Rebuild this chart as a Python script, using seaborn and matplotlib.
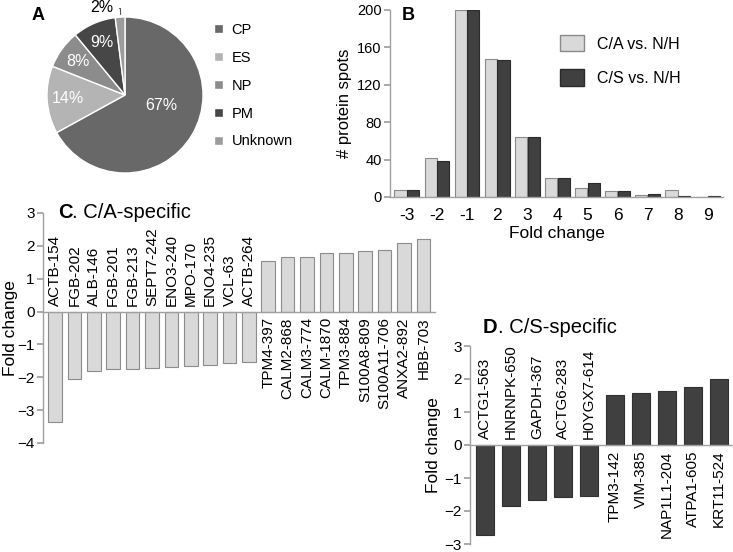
import matplotlib
matplotlib.use("Agg")
import matplotlib.pyplot as plt
from matplotlib.patches import Patch
import numpy as np
import pandas as pd
import seaborn as sns

# panel A - subcellular location
loc_labels = ["CP", "ES", "NP", "PM", "Unknown"]
loc_pct = [67, 14, 8, 9, 2]
loc_colors = ["#686868", "#b4b4b4", "#8c8c8c", "#474747", "#9c9c9c"]

# panel B - number of spots per fold change bin
fold_bins = ["-3", "-2", "-1", "2", "3", "4", "5", "6", "7", "8", "9"]
spots_ca = [8, 42, 200, 148, 64, 20, 10, 6, 2, 8, 0]
spots_cs = [8, 38, 200, 147, 64, 20, 15, 6, 3, 1, 1]
series_names = ["C/A vs. N/H", "C/S vs. N/H"]

# panel C - C/A specific
ca_proteins = ["ACTB-154", "FGB-202", "ALB-146", "FGB-201", "FGB-213", "SEPT7-242",
               "ENO3-240", "MPO-170", "ENO4-235", "VCL-63", "ACTB-264",
               "TPM4-397", "CALM2-868", "CALM3-774", "CALM-1870", "TPM3-884",
               "S100A8-809", "S100A11-706", "ANXA2-892", "HBB-703"]
ca_fold = [-3.35, -2.05, -1.82, -1.75, -1.75, -1.73, -1.70, -1.65, -1.63, -1.58, -1.53,
           1.55, 1.65, 1.67, 1.77, 1.78, 1.83, 1.88, 2.10, 2.20]

# panel D - C/S specific
cs_proteins = ["ACTG1-563", "HNRNPK-650", "GAPDH-367", "ACTG6-283", "H0YGX7-614",
               "TPM3-142", "VIM-385", "NAP1L1-204", "ATPA1-605", "KRT11-524"]
cs_fold = [-2.72, -1.85, -1.68, -1.58, -1.55, 1.52, 1.57, 1.63, 1.77, 2.0]

W, H = 733, 552


def box(l, t, r, b):
    return [l / W, 1 - b / H, (r - l) / W, (b - t) / H]


sns.set_theme(style="white")
plt.rcParams["font.family"] = ["Liberation Sans", "DejaVu Sans"]
plt.rcParams["axes.edgecolor"] = "#a0a0a0"
plt.rcParams["axes.linewidth"] = 1.0
plt.rcParams["axes.facecolor"] = "none"
plt.rcParams["text.color"] = "black"
plt.rcParams["axes.labelcolor"] = "black"
plt.rcParams["xtick.labelcolor"] = "black"
plt.rcParams["ytick.labelcolor"] = "black"

fig = plt.figure(figsize=(7.33, 5.52), dpi=100)

# ---- A: pie
axA = fig.add_axes(box(47, 17, 203, 173))
wedges, texts, autotexts = axA.pie(
    loc_pct, colors=loc_colors, startangle=90, counterclock=False,
    autopct="%.0f%%", pctdistance=0.74,
    wedgeprops=dict(edgecolor="white", linewidth=1),
    textprops=dict(color="white", fontsize=11.5))
axA.set_xlim(-1, 1)
axA.set_ylim(-1, 1)
mid = np.deg2rad((wedges[0].theta1 + wedges[0].theta2) / 2)
autotexts[0].set_position((0.5 * np.cos(mid) + 0.03, 0.5 * np.sin(mid) + 0.12))
autotexts[-1].set_visible(False)
mid = np.deg2rad((wedges[-1].theta1 + wedges[-1].theta2) / 2)
axA.annotate(f"{loc_pct[-1]}%", xy=(np.cos(mid), np.sin(mid)), xytext=(-0.15, 1.12),
             ha="right", va="center", fontsize=11.5, color="black",
             arrowprops=dict(arrowstyle="-", color="#555555", lw=0.8,
                             connectionstyle="angle,angleA=0,angleB=90,rad=0"))
fig.legend(wedges, loc_labels, loc="upper left", bbox_to_anchor=(214 / W, 1 - 23 / H),
           frameon=False, fontsize=10.5, handlelength=0.6, handleheight=0.6,
           handletextpad=0.6, labelspacing=0.95, borderpad=0, borderaxespad=0)
fig.text(32 / W, 1 - 20 / H, "A", fontsize=13, fontweight="bold", va="baseline")

# ---- B: grouped bars
dfB = pd.DataFrame({"fold": fold_bins * 2,
                    "spots": spots_ca + spots_cs,
                    "comparison": [series_names[0]] * len(fold_bins) + [series_names[1]] * len(fold_bins)})
axB = fig.add_axes(box(390, 10, 723, 197))
sns.barplot(data=dfB, x="fold", y="spots", hue="comparison", order=fold_bins,
            palette=["#d9d9d9", "#404040"], saturation=1, width=0.84, gap=0.04,
            errorbar=None, legend=False, ax=axB)
for cont, ec in zip(axB.containers, ["#8a8a8a", "#2b2b2b"]):
    for bar in cont:
        bar.set_edgecolor(ec)
        bar.set_linewidth(0.8)
axB.set_ylim(0, 200)
axB.set_yticks(range(0, 201, 40))
axB.set_xlim(-0.56, 10.5)
sns.despine(ax=axB)
axB.tick_params(axis="y", left=True, length=4, color="#a0a0a0", labelsize=10.5, pad=2)
axB.tick_params(axis="x", bottom=False, labelsize=12.5, pad=2)
axB.set_xlabel("Fold change", fontsize=12.5, labelpad=2)
axB.set_ylabel("# protein spots", fontsize=12)
axB.yaxis.set_label_coords(-0.114, 0.5)
fig.legend([Patch(facecolor="#d9d9d9", edgecolor="#8a8a8a"),
            Patch(facecolor="#404040", edgecolor="#2b2b2b")], series_names,
           loc="upper left", bbox_to_anchor=(560 / W, 1 - 35 / H), frameon=False,
           fontsize=11.5, handlelength=1.5, handleheight=1.2, handletextpad=0.8,
           labelspacing=1.1, borderpad=0, borderaxespad=0)
fig.text(402 / W, 1 - 20 / H, "B", fontsize=13, fontweight="bold", va="baseline")


def fold_panel(ax, names, values, color, edge, width, xlim, ylim, label_x):
    sns.barplot(x=names, y=values, color=color, saturation=1, width=width,
                edgecolor=edge, linewidth=0.8, errorbar=None, ax=ax)
    ax.set_ylim(*ylim)
    ax.set_xlim(*xlim)
    ax.set_yticks(range(ylim[0], ylim[1] + 1))
    sns.despine(ax=ax)
    ax.spines["bottom"].set_position(("data", 0))
    ax.tick_params(axis="x", bottom=False, labelbottom=False)
    ax.tick_params(axis="y", left=True, length=4, color="#a0a0a0", labelsize=11, pad=2)
    for i, (name, v) in enumerate(zip(names, values)):
        ax.annotate(name, xy=(i, 0), xytext=(0, 4 if v < 0 else -4),
                    textcoords="offset points", rotation=90, ha="center",
                    va="bottom" if v < 0 else "top", fontsize=11)
    ax.set_ylabel("Fold change", fontsize=12.5)
    ax.yaxis.set_label_coords(label_x, 0.5)


# ---- C
axC = fig.add_axes(box(43, 213, 435, 443))
fold_panel(axC, ca_proteins, ca_fold, "#d9d9d9", "#8c8c8c", 0.7, (-0.62, 19.6), (-4, 3), -0.063)
tC = fig.text(58 / W, 1 - 218 / H, "C", fontsize=14.5, fontweight="bold", va="baseline")
axC.annotate(". C/A-specific", xy=(1, 0), xycoords=tC, va="bottom", ha="left", fontsize=14.5)

# ---- D
axD = fig.add_axes(box(470, 346, 732, 544))
fold_panel(axD, cs_proteins, cs_fold, "#404040", "#303030", 0.69, (-0.57, 9.5), (-3, 3), -0.11)
tD = fig.text(483 / W, 1 - 333 / H, "D", fontsize=14.5, fontweight="bold", va="baseline")
axD.annotate(". C/S-specific", xy=(1, 0), xycoords=tD, va="bottom", ha="left", fontsize=14.5)

fig.savefig("out.png", dpi=100)
